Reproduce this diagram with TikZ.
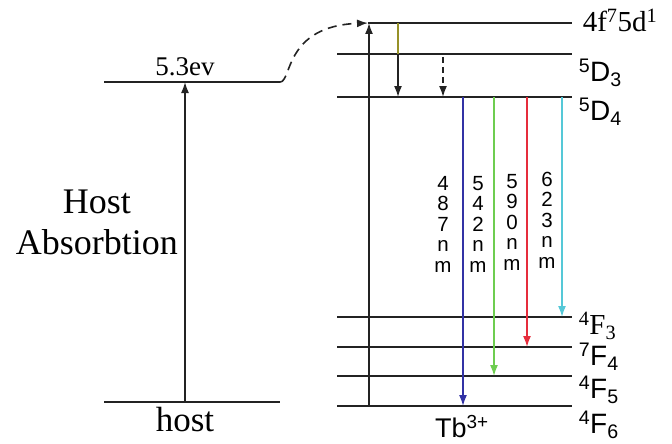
\documentclass[tikz,border=0pt]{standalone}
\usepackage{fontspec}
\setmainfont{Liberation Serif}
\setsansfont{Liberation Sans}
\usetikzlibrary{arrows.meta, calc}

\definecolor{lineGray}{RGB}{35,35,35}
\definecolor{emBlue}{RGB}{50,50,165}
\definecolor{emGreen}{RGB}{110,205,80}
\definecolor{emRed}{RGB}{230,45,60}
\definecolor{emCyan}{RGB}{85,200,215}
\definecolor{emOlive}{RGB}{150,145,40}

\newcommand{\serifsize}[1]{\fontsize{#1}{#1}\selectfont}

\begin{document}
\begin{tikzpicture}[x=1pt, y=-1pt, >={Latex[length=11pt,width=8pt]},
    line width=1.6pt, draw=lineGray,
    level/.style={lineGray, line width=1.6pt},
    lvlab/.style={anchor=west, inner sep=0pt, font=\sffamily\serifsize{28}},
    nmlab/.style={align=center, inner sep=0pt, font=\sffamily\serifsize{20.5}}]
    \useasboundingbox (0,0) rectangle (672,444);

    % host levels
    \coordinate (hostL) at (104,402);  \coordinate (hostR) at (280,402);
    \coordinate (exL)   at (104,82);   \coordinate (exR)   at (280,82);
    \coordinate (xHost) at (185,0);
    \draw[level] (hostL) -- (hostR);
    \draw[level] (exL) -- (exR);
    \draw[->, lineGray] (xHost |- hostL) -- (xHost |- exL);
    \node[font=\serifsize{27}, above=2pt] (ev) at (xHost |- exL) {5.3ev};
    \node[font=\serifsize{35}, below=1pt] (host) at (xHost |- hostL) {host};
    \node[font=\serifsize{36}, align=center, inner sep=0pt] (abs) at (97,222) {Host\\[5pt]Absorbtion};

    % Tb levels
    \def\xa{337}\def\xb{572}
    \coordinate (fd)  at (368,23);   \coordinate (fdR)  at (\xb,23);
    \coordinate (D3)  at (\xa,54);   \coordinate (D3R)  at (\xb,54);
    \coordinate (D4)  at (\xa,97);   \coordinate (D4R)  at (\xb,97);
    \coordinate (F3)  at (\xa,317);  \coordinate (F3R)  at (\xb,317);
    \coordinate (F4)  at (\xa,347);  \coordinate (F4R)  at (\xb,347);
    \coordinate (F5)  at (\xa,376);  \coordinate (F5R)  at (\xb,376);
    \coordinate (F6)  at (\xa,406);  \coordinate (F6R)  at (\xb,406);
    \foreach \l in {fd, D3, D4, F3, F4, F5, F6}
        \draw[level] (\l) -- (\l R);

    % excitation and transfer
    \coordinate (xTb) at (369,0);
    \draw[->, lineGray] (xTb |- F6) -- (xTb |- fd);
    \draw[->, lineGray, dashed, dash pattern=on 9pt off 6pt] (exR) .. controls (292,82) and (284,26) .. (fd);

    % non-radiative relaxation
    \coordinate (xNr) at (398,0);  \coordinate (xNd) at (443,0);
    \draw[emOlive] (xNr |- fd) -- (xNr |- D3);
    \draw[->, lineGray] (xNr |- D3) -- (xNr |- D4);
    \draw[->, lineGray, dashed, dash pattern=on 6pt off 4pt] ($(xNd |- D3)+(0,3)$) -- (xNd |- D4);

    % emissions
    \coordinate (xBl) at (463,0);  \coordinate (xGr) at (494,0);
    \coordinate (xRd) at (527,0);  \coordinate (xCy) at (562,0);
    \draw[->, emBlue]  (xBl |- D4) -- (xBl |- F6);
    \draw[->, emGreen] (xGr |- D4) -- (xGr |- F5);
    \draw[->, emRed]   (xRd |- D4) -- (xRd |- F4);
    \draw[->, emCyan]  (xCy |- D4) -- (xCy |- F3);

    \node[nmlab] (nm487) at (443,224) {4\\8\\7\\n\\m};
    \node[nmlab] (nm542) at (478,224) {5\\4\\2\\n\\m};
    \node[nmlab] (nm590) at (512,222) {5\\9\\0\\n\\m};
    \node[nmlab] (nm623) at (547,220) {6\\2\\3\\n\\m};

    % labels
    \node[anchor=west, inner sep=0pt, font=\serifsize{29}] (l4f) at (582,20) {4f\textsuperscript{7}5d\textsuperscript{1}};
    \node[lvlab] (lD3) at (578,73)  {\textsuperscript{5}D\textsubscript{3}};
    \node[lvlab] (lD4) at (578,112) {\textsuperscript{5}D\textsubscript{4}};
    \node[anchor=west, inner sep=0pt, font=\serifsize{29}] (lF3) at (578,326) {\textsuperscript{4}F\textsubscript{3}};
    \node[lvlab] (lF4) at (578,357) {\textsuperscript{7}F\textsubscript{4}};
    \node[lvlab] (lF5) at (578,390) {\textsuperscript{4}F\textsubscript{5}};
    \node[lvlab] (lF6) at (578,425) {\textsuperscript{4}F\textsubscript{6}};
    \node[font=\sffamily\serifsize{27}, inner sep=0pt] (tb) at (462,427) {Tb\textsuperscript{3+}};
\end{tikzpicture}
\end{document}
